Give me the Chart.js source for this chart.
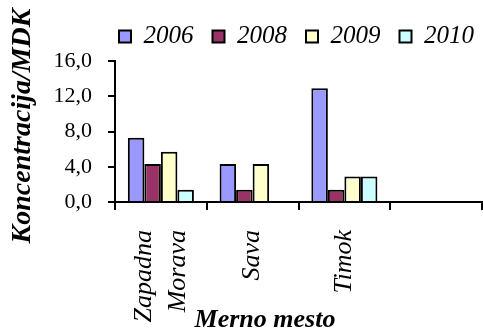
<!DOCTYPE html>
<html>
<head>
<meta charset="utf-8">
<script src="https://cdn.jsdelivr.net/npm/chart.js@4/dist/chart.umd.min.js"></script>
<style>
  html, body { margin: 0; padding: 0; background: #fff; }
  #wrap { width: 483px; height: 331px; }
</style>
</head>
<body>
<div id="wrap"><canvas id="koncChart"></canvas></div>
<script>
// blank lines keep the two-line label centred on its slot
const places = [['Zapadna', '', 'Morava'], ['', 'Sava'], ['', 'Timok'], ''];
const years = ['2006', '2008', '2009', '2010'];
const values2006 = [7.3, 4.3, 12.9, null];
const values2008 = [4.3, 1.4, 1.4, null];
const values2009 = [5.7, 4.3, 2.9, null];
const values2010 = [1.4, null, 2.9, null];
const yTicks = [0, 4, 8, 12, 16];

const colors = ['#9999FF', '#993366', '#FFFFCC', '#CCFFFF'];
const serif = "'Liberation Serif', 'Times New Roman', serif";

// axis titles are off-centre in the original, so they are drawn by hand
const titlesPlugin = {
    id: 'axisTitles',
    afterLayout(chart) {
        // nudge the legend to where it sits in the original
        const lg = chart.legend;
        lg.left += 11; lg.right += 11;
        lg.top -= 2; lg.bottom -= 2;
    },
    afterDraw(chart) {
        const ctx = chart.ctx;
        ctx.save();
        ctx.fillStyle = '#000';
        ctx.textAlign = 'center';
        ctx.textBaseline = 'middle';
        ctx.font = 'italic bold 26px ' + serif;
        ctx.fillText('Merno mesto', 265, 320);
        ctx.translate(23, 126);
        ctx.rotate(-Math.PI / 2);
        ctx.font = 'italic bold 28px ' + serif;
        ctx.fillText('Koncentracija/MDK', 0, 0);
        ctx.restore();
    }
};

function drawChart() {
    const ctx = document.getElementById('koncChart').getContext('2d');
    new Chart(ctx, {
        type: 'bar',
        data: {
            labels: places,
            datasets: [values2006, values2008, values2009, values2010].map((vals, i) => ({
                label: years[i],
                data: vals,
                backgroundColor: colors[i],
                borderColor: '#000',
                borderWidth: 2,
                categoryPercentage: 0.72,
                barPercentage: 1
            }))
        },
        options: {
            responsive: true,
            maintainAspectRatio: false,
            animation: false,
            layout: { padding: { top: 7, right: 1, left: 0, bottom: 0 } },
            plugins: {
                legend: {
                    position: 'top',
                    align: 'end',
                    labels: {
                        boxWidth: 12,
                        boxHeight: 12,
                        padding: 19,
                        color: '#000',
                        font: { family: serif, size: 25, style: 'italic' }
                    }
                },
                tooltip: { enabled: false }
            },
            scales: {
                x: {
                    grid: { drawOnChartArea: false, color: '#000', tickLength: 8, lineWidth: 2 },
                    border: { color: '#000', width: 2 },
                    ticks: {
                        color: '#000',
                        minRotation: 90,
                        maxRotation: 90,
                        padding: 20,
                        labelOffset: -17,
                        font: { family: serif, size: 26, style: 'italic', lineHeight: '17px' }
                    },
                    afterFit(scale) { scale.height = 129; }
                },
                y: {
                    min: 0,
                    max: 16,
                    afterBuildTicks(scale) { scale.ticks = yTicks.map(v => ({ value: v })); },
                    grid: { drawOnChartArea: false, color: '#000', tickLength: 7, lineWidth: 2 },
                    border: { color: '#000', width: 2 },
                    ticks: {
                        color: '#000',
                        padding: 16,
                        font: { family: serif, size: 22 },
                        callback: v => v.toFixed(1).replace('.', ',')
                    },
                    afterFit(scale) { scale.width = 115; }
                }
            }
        },
        plugins: [titlesPlugin]
    });
}

Promise.all([
    document.fonts.load("22px 'Liberation Serif'"),
    document.fonts.load("italic 25px 'Liberation Serif'"),
    document.fonts.load("italic bold 26px 'Liberation Serif'")
]).then(drawChart, drawChart);
</script>
</body>
</html>
